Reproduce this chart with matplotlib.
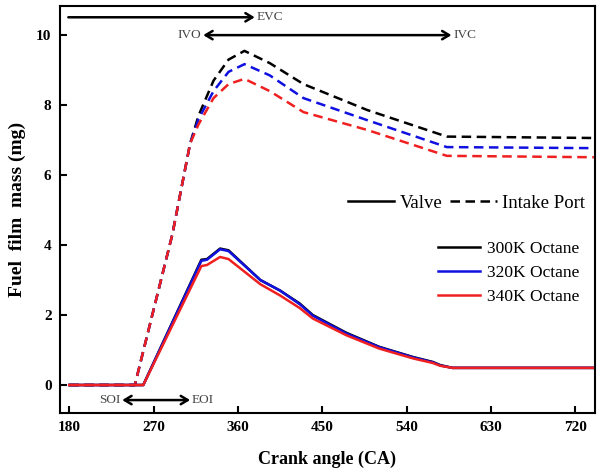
import numpy as np
import matplotlib
matplotlib.use("Agg")
import matplotlib.pyplot as plt

plt.rcParams['font.family'] = ['Liberation Serif', 'DejaVu Serif']

# Valve (solid) curves
ca_valve = [180, 259, 321, 327, 341, 350, 384, 405, 426, 440, 476, 511, 547, 568, 576, 589, 740]
valve_300 = [0, 0, 3.58, 3.60, 3.90, 3.85, 3.00, 2.70, 2.33, 2.00, 1.49, 1.09, 0.80, 0.66, 0.57, 0.49, 0.49]
valve_320 = [0, 0, 3.55, 3.58, 3.88, 3.83, 3.00, 2.70, 2.31, 1.98, 1.47, 1.08, 0.79, 0.65, 0.56, 0.49, 0.49]
valve_340 = [0, 0, 3.40, 3.43, 3.66, 3.60, 2.88, 2.56, 2.20, 1.90, 1.42, 1.04, 0.76, 0.63, 0.55, 0.49, 0.49]

# Intake port (dashed) curves
ca_port = [180, 250, 290, 309, 318, 334, 350, 367, 394, 430, 498, 583, 740]
port_300 = [0, 0, 4.3, 6.9, 7.70, 8.70, 9.30, 9.55, 9.20, 8.60, 7.86, 7.10, 7.06]
port_320 = [0, 0, 4.3, 6.9, 7.60, 8.40, 8.95, 9.17, 8.85, 8.20, 7.57, 6.80, 6.77]
port_340 = [0, 0, 4.3, 6.9, 7.45, 8.20, 8.60, 8.75, 8.40, 7.80, 7.29, 6.55, 6.51]

labels = ['300K Octane', '320K Octane', '340K Octane']
colors = ['black', '#1010e0', '#f02020']

fig = plt.figure(figsize=(5.99, 4.68), dpi=100)
ax = fig.add_axes([0.1, 0.1175, 0.893, 0.8695])

dash = (3.8, 2.2)
for yp, c in zip([port_300, port_320, port_340], colors):
    ax.plot(ca_port, yp, color=c, lw=1.8, dashes=dash)
lines = []
for yv, c, lab in zip([valve_300, valve_320, valve_340], colors, labels):
    l, = ax.plot(ca_valve, yv, color=c, lw=1.8, label=lab)
    lines.append(l)

ax.set_xlim(170, 741)
ax.set_ylim(-0.8, 10.83)
ax.set_xticks([180, 270, 360, 450, 540, 630, 720])
ax.set_yticks([0, 2, 4, 6, 8, 10])
ax.tick_params(direction='in', length=5, width=1.5, labelsize=11, pad=6)
for t in ax.get_xticklabels() + ax.get_yticklabels():
    t.set_fontweight('bold')
for s in ax.spines.values():
    s.set_linewidth(1.5)

ax.set_xlabel('Crank angle (CA)', fontsize=13, fontweight='bold', labelpad=12)
ax.set_ylabel('Fuel  film  mass (mg)', fontsize=14, fontweight='bold', labelpad=7)

# legends
leg2 = ax.legend(handles=lines, loc='center right', bbox_to_anchor=(0.972, 0.344),
                 frameon=False, fontsize=12.5, handlelength=2.4, handletextpad=0.45,
                 labelspacing=0.45, borderpad=0, borderaxespad=0)
ax.add_artist(leg2)
h1, = ax.plot([], [], color='black', lw=1.8)
h2, = ax.plot([], [], color='black', lw=1.8, dashes=dash)
ax.legend([h1, h2], ['Valve', 'Intake Port'], loc='center right', bbox_to_anchor=(0.981, 0.516),
          ncol=2, frameon=False, fontsize=13.5, handlelength=2.5, handletextpad=0.27,
          columnspacing=0.4, borderpad=0, borderaxespad=0)

# timing annotations
arrow = dict(arrowstyle='->, head_length=0.5, head_width=0.3', lw=1.8, color='black', shrinkA=0, shrinkB=0)
arrow2 = dict(arrowstyle='<->, head_length=0.5, head_width=0.3', lw=1.8, color='black', shrinkA=0, shrinkB=0)
tcol = '#444444'
ax.annotate('', xy=(378, 10.51), xytext=(179, 10.51), arrowprops=arrow)
ax.text(380, 10.51, 'EVC', fontsize=9.5, color=tcol, va='center', ha='left')
ax.annotate('', xy=(323, 10.0), xytext=(588, 10.0), arrowprops=arrow2)
ax.text(321, 10.0, 'IVO', fontsize=9.5, color=tcol, va='center', ha='right')
ax.text(590, 10.0, 'IVC', fontsize=9.5, color=tcol, va='center', ha='left')
ax.annotate('', xy=(236.5, -0.43), xytext=(309, -0.43), arrowprops=arrow2)
ax.text(235, -0.43, 'SOI', fontsize=9.5, color=tcol, va='center', ha='right')
ax.text(311, -0.43, 'EOI', fontsize=9.5, color=tcol, va='center', ha='left')

fig.savefig('out.png', dpi=100)
